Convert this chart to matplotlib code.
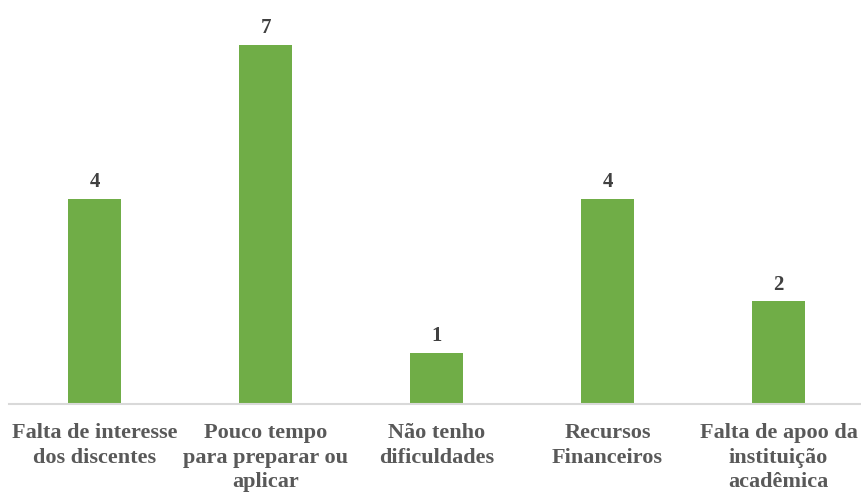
import matplotlib.pyplot as plt

categorias = [
    "Falta de interesse\ndos discentes",
    "Pouco tempo\npara preparar ou\naplicar",
    "Não tenho\ndificuldades",
    "Recursos\nFinanceiros",
    "Falta de apoo da\ninstituição\nacadêmica",
]
respostas = [4, 7, 1, 4, 2]

fig = plt.figure(figsize=(8.61, 4.93), dpi=100)
ax = fig.add_axes([9 / 861, 89 / 493, 855 / 861, 385 / 493])

x = range(len(categorias))
barras = ax.bar(x, respostas, width=0.31, color="#70AD47", zorder=2)

for b, v in zip(barras, respostas):
    ax.text(b.get_x() + b.get_width() / 2, v + 0.13, str(v),
            ha="center", va="bottom", fontsize=15, fontweight="bold",
            family="Liberation Serif", color="#404040")

ax.set_xlim(-0.5, len(categorias) - 0.5)
ax.set_ylim(0, 7.5)
ax.set_xticks(list(x))
ax.set_xticklabels(categorias, fontsize=16, fontweight="bold",
                   family="Liberation Serif", color="#595959", linespacing=1.3)
ax.tick_params(axis="x", length=0, pad=14)
ax.set_yticks([])

for lado in ["top", "right", "left"]:
    ax.spines[lado].set_visible(False)
ax.spines["bottom"].set_color("#D9D9D9")
ax.spines["bottom"].set_linewidth(1.5)

fig.savefig("out.png", dpi=100)
